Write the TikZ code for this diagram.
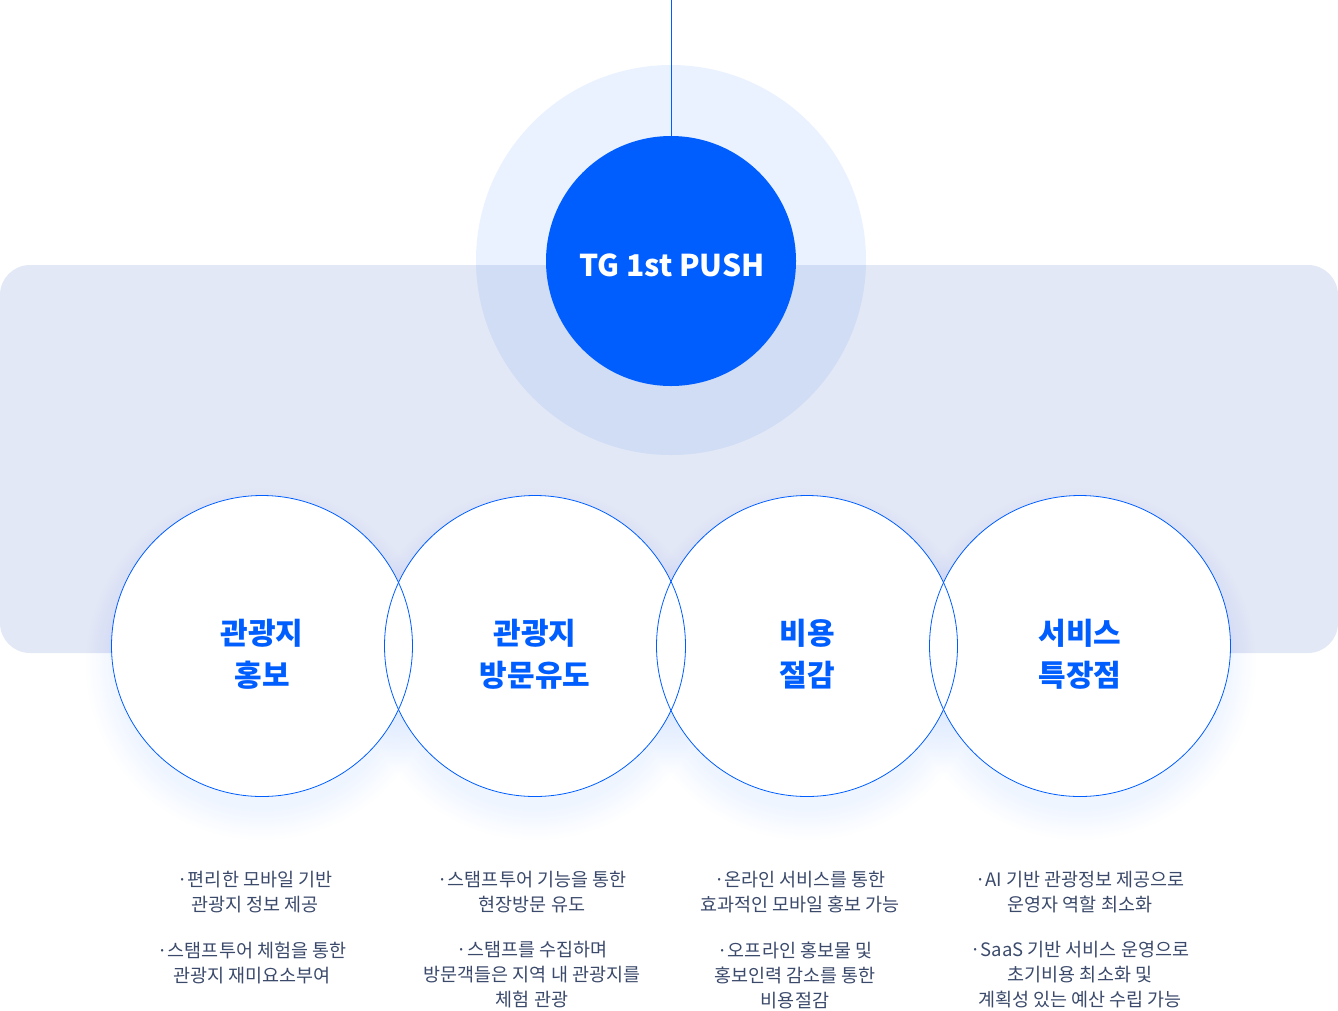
\documentclass[tikz,border=0pt]{standalone}
\usepackage{fontspec}
\setmainfont{Noto Sans CJK KR}
\usetikzlibrary{positioning}
\definecolor{pushblue}{HTML}{005EFF}
\definecolor{panelgray}{HTML}{E2E8F5}
\definecolor{bodyink}{HTML}{3B4A6B}
\tikzset{
  feature/.style={circle, minimum size=301pt, inner sep=0pt},
  title/.style={text=pushblue, align=center, font=\fontsize{30}{42}\selectfont\bfseries},
  bullet/.style={text=bodyink, align=center, font=\fontsize{18.5}{25}\selectfont}
}
\begin{document}
\begin{tikzpicture}[x=1pt, y=-1pt]
    % 1. Vùng hiển thị
    \useasboundingbox (0,0) rectangle (1338,1010);

    % 2. Dải nền bo góc
    \fill[panelgray, rounded corners=30pt] (0,265) rectangle (1338,653);

    % 3. Vòng sáng quanh tâm
    \fill[pushblue, opacity=0.08] (671,260) circle (195);

    % 4. Vòng tròn chính và đường nối phía trên
    \coordinate (top) at (671,0);
    \node[circle, fill=pushblue, minimum size=250pt, inner sep=0pt] (push) at (671,261) {};
    \node[text=white, font=\fontsize{30}{36}\selectfont\bfseries] (pushtext) at (672,265) {TG 1st PUSH};
    \draw[pushblue, line width=0.8pt] (top) -- (push.north);

    % 5. Bóng mờ dưới bốn vòng tròn
    \foreach \cx in {262,535,807,1080}
        \foreach \k in {0,...,15}
            \fill[pushblue, opacity=0.004] (\cx,664) circle (146+2*\k);

    % 6. Bốn vòng tròn đặc điểm
    \foreach \cx/\nm in {262/c1,535/c2,807/c3,1080/c4}
        \node[feature, fill=white] (\nm) at (\cx,646) {};
    \foreach \nm in {c1,c2,c3,c4}
        \draw[pushblue, line width=0.8pt] (\nm) circle (150.5);

    % 7. Tiêu đề
    \node[title, yshift=-8pt] (t1) at (c1) {관광지\\홍보};
    \node[title, yshift=-8pt] (t2) at (c2) {관광지\\방문유도};
    \node[title, yshift=-8pt] (t3) at (c3) {비용\\절감};
    \node[title, yshift=-8pt] (t4) at (c4) {서비스\\특장점};

    % 8. Nội dung mô tả
    \node[bullet] (b1a) at (255,892.5) {·편리한 모바일 기반\\관광지 정보 제공};
    \node[bullet] (b1b) at (252,962.5) {·스탬프투어 체험을 통한\\관광지 재미요소부여};
    \node[bullet] (b2a) at (532,892.5) {·스탬프투어 기능을 통한\\현장방문 유도};
    \node[bullet] (b2b) at (532,975) {·스탬프를 수집하며\\방문객들은 지역 내 관광지를\\체험 관광};
    \node[bullet] (b3a) at (800,892.5) {·온라인 서비스를 통한\\효과적인 모바일 홍보 가능};
    \node[bullet] (b3b) at (795,975) {·오프라인 홍보물 및\\홍보인력 감소를 통한\\비용절감};
    \node[bullet] (b4a) at (1080,892.5) {·AI 기반 관광정보 제공으로\\운영자 역할 최소화};
    \node[bullet] (b4b) at (1080,975) {·SaaS 기반 서비스 운영으로\\초기비용 최소화 및\\계획성 있는 예산 수립 가능};
\end{tikzpicture}
\end{document}
